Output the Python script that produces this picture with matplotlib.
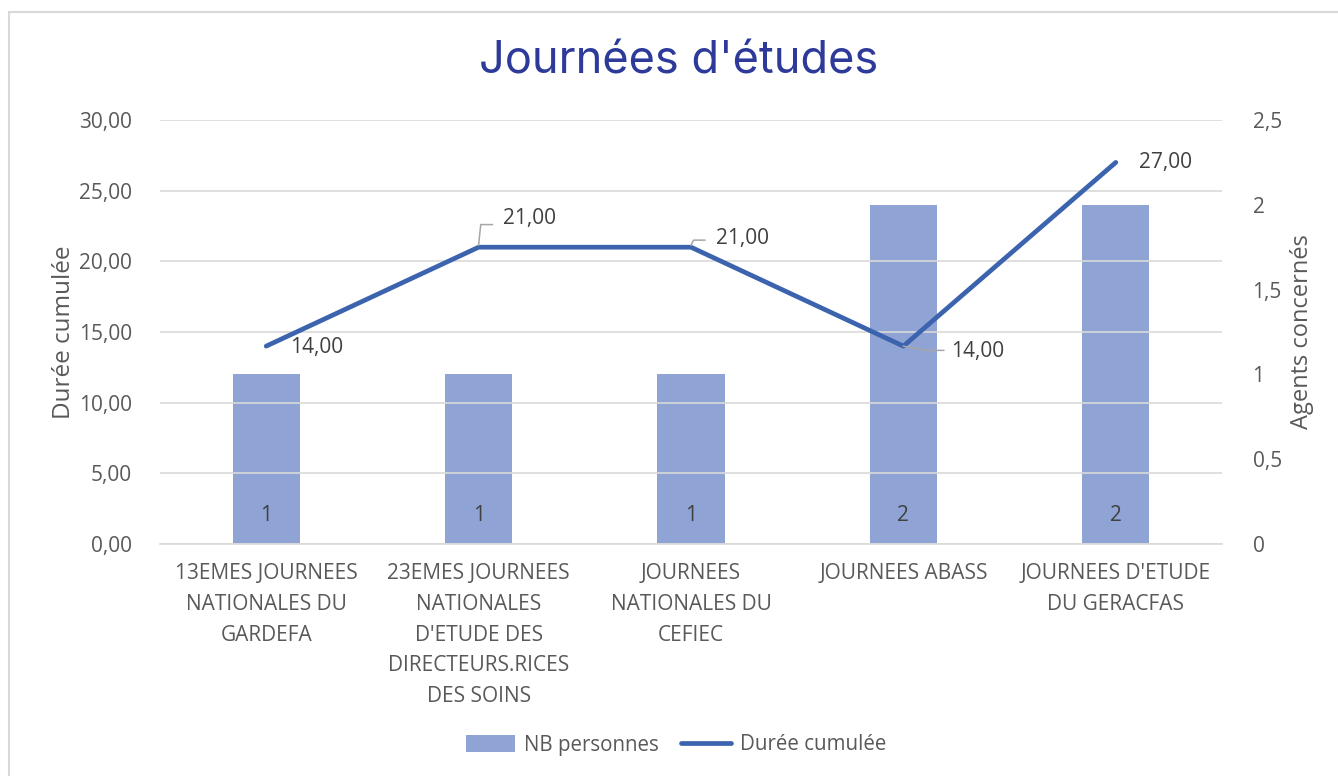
import matplotlib.pyplot as plt
import matplotlib.patches as patches

categories = [
    "13EMES JOURNEES\nNATIONALES DU\nGARDEFA",
    "23EMES JOURNEES\nNATIONALES\nD'ETUDE DES\nDIRECTEURS.RICES\nDES SOINS",
    "JOURNEES\nNATIONALES DU\nCEFIEC",
    "JOURNEES ABASS",
    "JOURNEES D'ETUDE\nDU GERACFAS",
]
nb_personnes = [1, 1, 1, 2, 2]
duree_cumulee = [14, 21, 21, 14, 27]

left_ticks = [0, 5, 10, 15, 20, 25, 30]
right_ticks = [0, 0.5, 1, 1.5, 2, 2.5]

TEXT = '#595959'
LABEL = '#404040'
BAR = '#8FA4D4'
LINE = '#3C64AE'
GRID = '#D9D9D9'
LEAD = '#A6A6A6'
FS = 15

plt.rcParams['font.family'] = ['Open Sans', 'DejaVu Sans']

fig = plt.figure(figsize=(13.38, 7.76), dpi=100, facecolor='white')

# chart frame
fig.patches.append(patches.Rectangle((9 / 1338, -0.01), 1.0, 1 - 12 / 776 + 0.01,
                                     transform=fig.transFigure, fill=False,
                                     edgecolor=GRID, linewidth=1.5))

ax = fig.add_axes([160 / 1338, 1 - 544 / 776, (1222 - 160) / 1338, (544 - 120) / 776])
ax2 = ax.twinx()

x = list(range(len(categories)))

# bars on secondary axis
ax2.bar(x, nb_personnes, width=0.316, color=BAR, zorder=2, label='NB personnes')
for xi, v in zip(x, nb_personnes):
    ax2.text(xi, 0.17, f"{v}", ha='center', va='center', fontsize=FS, color=LABEL)

# line on primary axis, drawn above bars
ax.set_zorder(ax2.get_zorder() + 1)
ax.patch.set_visible(False)
ax.plot(x, duree_cumulee, color=LINE, lw=3.4, solid_capstyle='round', zorder=3,
        label='Durée cumulée')

# data labels (offsets in data units)
label_pos = [(0.113, -0.1), (0.113, 2.05), (0.118, 0.64), (0.226, -0.35), (0.108, 0.0)]
for xi, v, (dx, dy) in zip(x, duree_cumulee, label_pos):
    lbl = f"{v:.2f}".replace('.', ',')
    ax.text(xi + dx, v + dy, lbl, ha='left', va='center', fontsize=FS, color=LABEL, zorder=5)

# leader lines
ax.plot([1.0, 1.01, 1.065], [21.15, 22.6, 22.6], color=LEAD, lw=1.1, zorder=4)
ax.plot([2.0, 2.012, 2.065], [21.15, 21.5, 21.5], color=LEAD, lw=1.1, zorder=4)
ax.plot([3.0, 3.11, 3.19], [14.0, 13.7, 13.7], color=LEAD, lw=1.1, zorder=4)

ax.set_xlim(-0.5, 4.5)
ax.set_ylim(0, 30)
ax2.set_ylim(0, 2.5)
ax.set_yticks(left_ticks)
ax.set_yticklabels([f"{t:.2f}".replace('.', ',') for t in left_ticks])
ax2.set_yticks(right_ticks)
ax2.set_yticklabels([f"{t:g}".replace('.', ',') for t in right_ticks])

ax.grid(axis='y', color=GRID, lw=1.2, zorder=0)
ax.set_axisbelow(True)
ax2.grid(False)
for a in (ax, ax2):
    for s in a.spines.values():
        s.set_visible(False)
    a.tick_params(length=0, labelsize=FS, labelcolor=TEXT)
ax.spines['bottom'].set_visible(True)
ax.spines['bottom'].set_color(GRID)
ax.spines['bottom'].set_linewidth(1.2)
ax.tick_params(axis='y', pad=20)
ax2.tick_params(axis='y', pad=22)

ax.set_xticks(x)
ax.set_xticklabels(categories, fontsize=FS, color=TEXT, linespacing=1.6)
ax.tick_params(axis='x', pad=14)

ax.set_ylabel('Durée cumulée', fontsize=17.5, color=TEXT, labelpad=2)
ax2.set_ylabel('Agents concernés', fontsize=17, color=TEXT, labelpad=6)

fig.text(0.5 + 10 / 1338, 1 - 61 / 776, "Journées d'études", ha='center', va='center',
         fontsize=32.5, color='#2E3A9A', family=['Inter', 'DejaVu Sans'])

h2, l2 = ax2.get_legend_handles_labels()
h1, l1 = ax.get_legend_handles_labels()
fig.legend(h2 + h1, l2 + l1, loc='center', bbox_to_anchor=(676 / 1338, 1 - 745 / 776), ncol=2,
           frameon=False, fontsize=14.8, labelcolor=TEXT, handlelength=2.4,
           handleheight=0.9, columnspacing=1.1, handletextpad=0.45)

fig.savefig('out.png', dpi=100, facecolor='white')
